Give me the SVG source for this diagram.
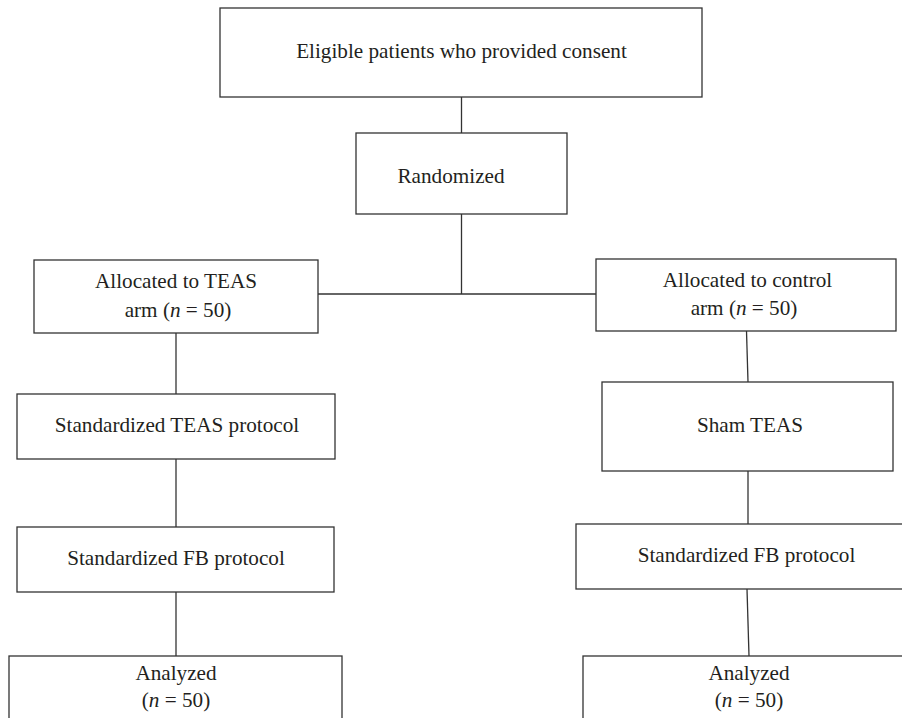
<svg xmlns="http://www.w3.org/2000/svg" width="902" height="718" viewBox="0 0 902 718">
<style>
.box{fill:#fff;stroke:#333;stroke-width:1.3}
.ln{fill:none;stroke:#333;stroke-width:1.3}
text{font-family:"Liberation Serif","Times New Roman",serif;font-size:21.2px;fill:#231f20;text-anchor:middle}
.it{font-style:italic}
</style>
<rect width="902" height="718" fill="#fff"/>
<g id="connectors">
<line class="ln" x1="461.5" y1="97" x2="461.5" y2="133"/>
<line class="ln" x1="461.5" y1="214" x2="461.5" y2="294"/>
<line class="ln" x1="318" y1="294" x2="596" y2="294"/>
<line class="ln" x1="176" y1="333" x2="176" y2="394"/>
<line class="ln" x1="176" y1="459" x2="176" y2="527"/>
<line class="ln" x1="176" y1="592" x2="176" y2="656"/>
<line class="ln" x1="746.5" y1="331" x2="748" y2="382"/>
<line class="ln" x1="748" y1="471" x2="748" y2="524"/>
<line class="ln" x1="747" y1="589" x2="749" y2="656"/>
</g>
<g id="consent">
<rect class="box" x="220" y="8" width="482" height="89"/>
<text x="461.5" y="58">Eligible patients who provided consent</text>
</g>
<g id="randomized">
<rect class="box" x="356" y="133" width="211" height="81"/>
<text x="451" y="183">Randomized</text>
</g>
<g id="teas-arm">
<rect class="box" x="34" y="260" width="284" height="73"/>
<text x="176" y="288">Allocated to TEAS</text>
<text x="178" y="317">arm (<tspan class="it">n</tspan> = 50)</text>
</g>
<g id="control-arm">
<rect class="box" x="596" y="259" width="300" height="72"/>
<text x="747.5" y="287">Allocated to control</text>
<text x="744" y="315">arm (<tspan class="it">n</tspan> = 50)</text>
</g>
<g id="teas-protocol">
<rect class="box" x="17" y="394" width="318" height="65"/>
<text x="177" y="432">Standardized TEAS protocol</text>
</g>
<g id="sham">
<rect class="box" x="602" y="382" width="291" height="89"/>
<text x="750" y="432">Sham TEAS</text>
</g>
<g id="fb-left">
<rect class="box" x="17" y="527" width="317" height="65"/>
<text x="176" y="565">Standardized FB protocol</text>
</g>
<g id="fb-right">
<rect class="box" x="576" y="524" width="330" height="65"/>
<text x="746.5" y="562">Standardized FB protocol</text>
</g>
<g id="analyzed-left">
<rect class="box" x="9" y="656" width="333" height="70"/>
<text x="176" y="680">Analyzed</text>
<text x="176" y="707">(<tspan class="it">n</tspan> = 50)</text>
</g>
<g id="analyzed-right">
<rect class="box" x="583" y="656" width="330" height="70"/>
<text x="749" y="680">Analyzed</text>
<text x="749" y="707">(<tspan class="it">n</tspan> = 50)</text>
</g>
</svg>
